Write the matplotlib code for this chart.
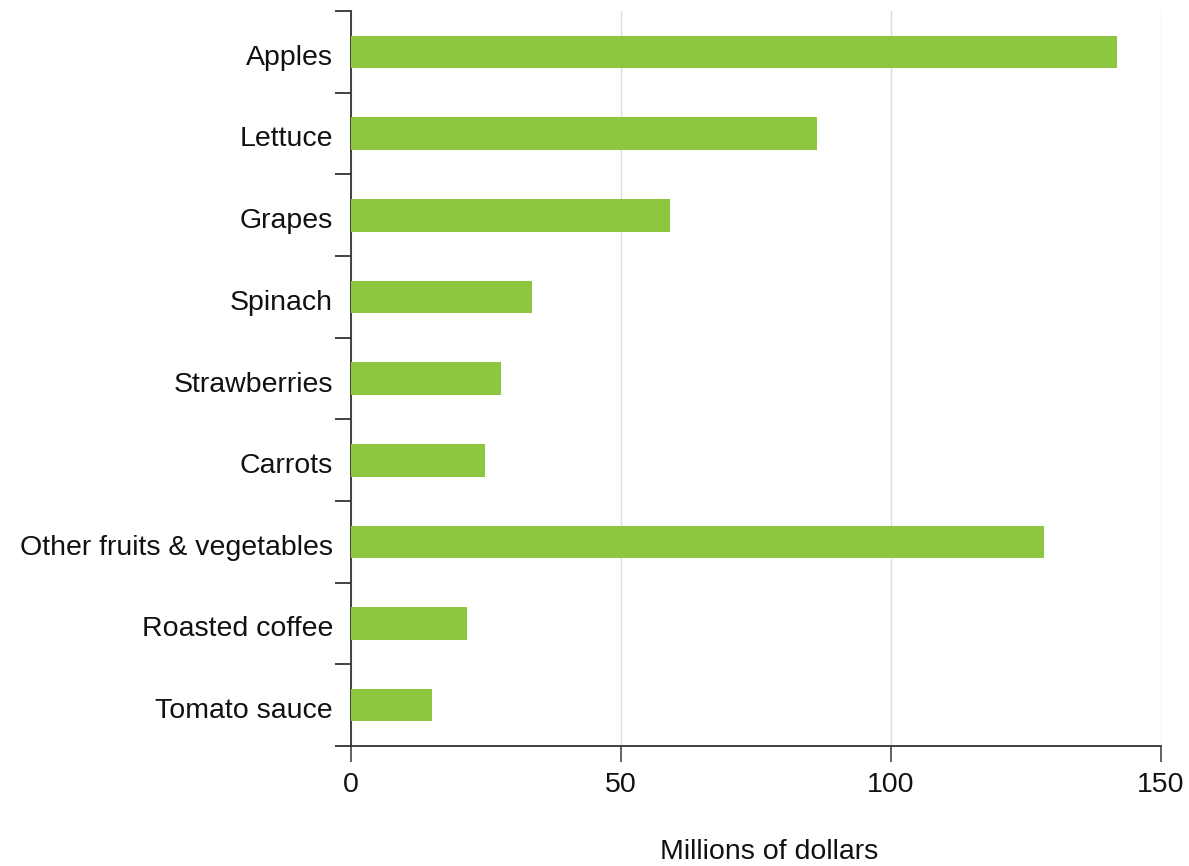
import matplotlib
matplotlib.use("Agg")
import matplotlib.pyplot as plt
import matplotlib.transforms as mtransforms
import numpy as np

categories = ["Apples", "Lettuce", "Grapes", "Spinach", "Strawberries", "Carrots",
              "Other fruits & vegetables", "Roasted coffee", "Tomato sauce"]
values = [141.9, 86.3, 59.0, 33.5, 27.8, 24.8, 128.3, 21.5, 15.0]
xticks = [0, 50, 100, 150]

plt.rcParams['font.family'] = ['Liberation Sans', 'DejaVu Sans']

fig = plt.figure(figsize=(11.89, 8.66), dpi=100)
ax = fig.add_axes([351/1189, 1 - 746/866, 810/1189, 735/866])

n = len(categories)
y = np.arange(n)
ax.barh(y, values, height=0.4, color="#8dc63f", zorder=3)
ax.set_ylim(n - 0.5, -0.5)
ax.set_xlim(0, 150)

ax.set_yticks(y)
ax.set_yticklabels(categories, fontsize=20.5, color="#111111")
ax.set_yticks(np.arange(n + 1) - 0.5, minor=True)
ax.tick_params(axis='y', which='major', length=0, pad=13)
ax.tick_params(axis='y', which='minor', length=11.5, width=1.3, color="#333333")
offset = mtransforms.ScaledTranslation(0, -3/100, fig.dpi_scale_trans)
for lbl in ax.get_yticklabels():
    lbl.set_transform(lbl.get_transform() + offset)

ax.set_xticks(xticks)
ax.set_xticklabels([str(t) for t in xticks], fontsize=20.5, color="#111111")
ax.tick_params(axis='x', which='major', length=11.5, width=1.3, color="#555555", pad=7)

ax.grid(axis='x', color="#dddddd", linewidth=1, zorder=0)
for s in ["top", "right"]:
    ax.spines[s].set_visible(False)
for s in ["left", "bottom"]:
    ax.spines[s].set_color("#333333")
    ax.spines[s].set_linewidth(1.3)

ax.set_xlabel("Millions of dollars", fontsize=20.5, color="#111111")
ax.xaxis.set_label_coords(0.516, -0.127)

fig.savefig("out.png", dpi=100)
